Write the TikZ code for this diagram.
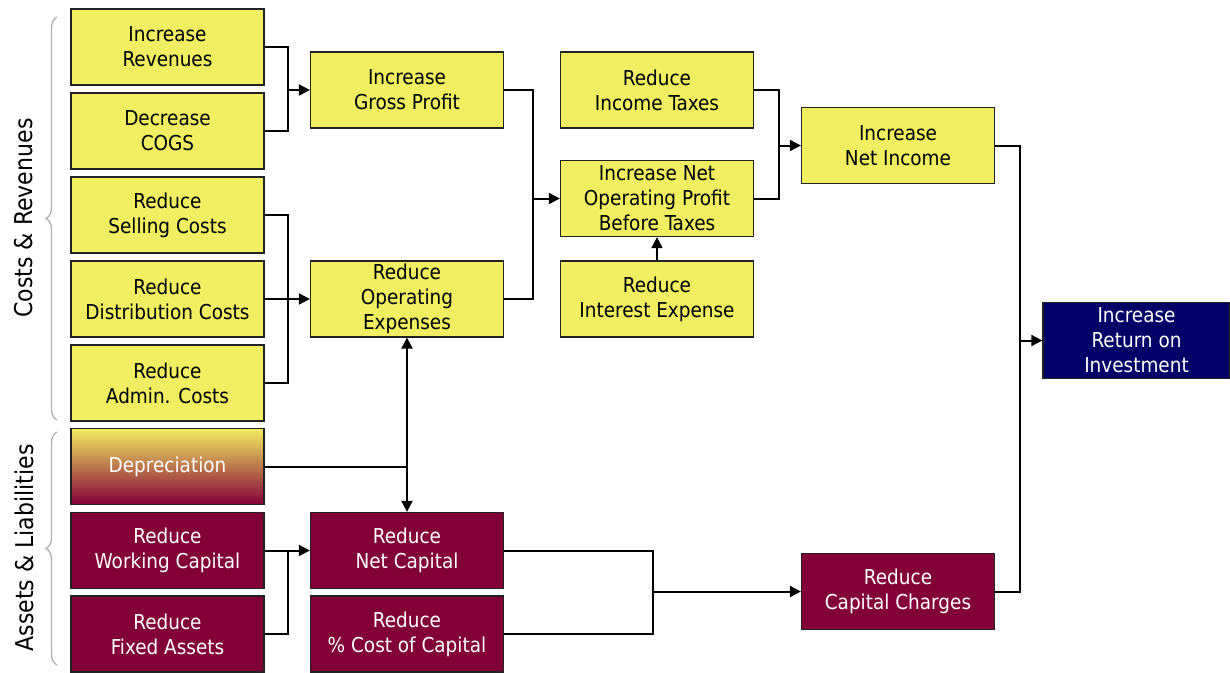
\documentclass[tikz,border=0pt]{standalone}
\usepackage{fontspec}
\setmainfont{DejaVu Sans Condensed}
\usetikzlibrary{arrows.meta,decorations.pathreplacing}
\definecolor{boxyellow}{HTML}{F2EE62}
\definecolor{boxmaroon}{HTML}{830037}
\definecolor{boxnavy}{HTML}{000066}
\definecolor{boxedge}{HTML}{222222}
\definecolor{bracegray}{HTML}{B0B0B0}
\begin{document}
\begin{tikzpicture}[x=1pt,y=-1pt,
  box/.style={draw=boxedge,line width=1.3pt,minimum width=193pt,minimum height=76pt,
    align=center,inner sep=1pt,font=\fontsize{20.5}{25}\selectfont},
  ybox/.style={box,fill=boxyellow,text=black},
  mbox/.style={box,fill=boxmaroon,text=white},
  nbox/.style={box,fill=boxnavy,text=white,minimum width=187pt},
  dbox/.style={box,top color=boxyellow,bottom color=boxmaroon,middle color=boxyellow!50!boxmaroon,text=white},
  conn/.style={line width=2pt,draw=black},
  arr/.style={conn,-{Triangle[length=11pt,width=11pt]}},
  darr/.style={conn,{Triangle[length=11pt,width=11pt]}-{Triangle[length=11pt,width=11pt]}},
  brc/.style={draw=bracegray,line width=1.3pt,decorate,decoration={brace,amplitude=11pt}},
  side/.style={rotate=90,font=\fontsize{24.5}{28}\selectfont}
]
\useasboundingbox (0,0) rectangle (1230,672);
% column 1
\node[ybox] (IR)  at (167.5,47)  {Increase\\Revenues};
\node[ybox] (CG)  at (167.5,131) {Decrease\\COGS};
\node[ybox] (SC)  at (167.5,215) {Reduce\\Selling Costs};
\node[ybox] (DC)  at (167.5,299) {Reduce\\Distribution Costs};
\node[ybox] (AC)  at (167.5,383) {Reduce\\Admin. Costs};
\node[dbox] (DEP) at (167.5,466.5) {Depreciation};
\node[mbox] (WC)  at (167.5,550.5) {Reduce\\Working Capital};
\node[mbox] (FA)  at (167.5,634) {Reduce\\Fixed Assets};
% column 2
\node[ybox] (GP)  at (407,90)  {Increase\\Gross Profit};
\node[ybox] (OE)  at (407,299) {Reduce\\Operating\\Expenses};
\node[mbox] (NC)  at (407,550.5) {Reduce\\Net Capital};
\node[mbox] (CC)  at (407,634) {Reduce\\\% Cost of Capital};
% column 3
\node[ybox] (IT)  at (657,90)  {Reduce\\Income Taxes};
\node[ybox] (NOP) at (657,198.5) {Increase Net\\Operating Profit\\Before Taxes};
\node[ybox] (IE)  at (657,299) {Reduce\\Interest Expense};
% column 4
\node[ybox] (NI)  at (898,145.5) {Increase\\Net Income};
\node[mbox] (CH)  at (898,591.5) {Reduce\\Capital Charges};
% column 5
\node[nbox] (ROI) at (1136.5,340.5) {Increase\\Return on\\Investment};
% connectors
\draw[conn] (IR.east) -- ++(23.5,0) coordinate (j1) |- (CG.east);
\draw[arr] (j1 |- GP.west) -- (GP.west);
\draw[conn] (SC.east) -- ++(23.5,0) coordinate (j2) |- (AC.east);
\draw[arr] (DC.east) -- (OE.west);
\draw[conn] (GP.east) -- ++(29,0) coordinate (j3) |- (OE.east);
\draw[arr] (j3 |- NOP.west) -- (NOP.west);
\draw[conn] (IT.east) -- ++(25,0) coordinate (j4) |- (NOP.east);
\draw[arr] (j4 |- NI.west) -- (NI.west);
\draw[arr] (IE.north) -- (NOP.south);
\draw[darr] (OE.south) -- (NC.north);
\draw[conn] (DEP.east) -- (DEP.east -| OE.south);
\draw[conn] (WC.east) -- ++(23.5,0) coordinate (j5) |- (FA.east);
\draw[arr] (j5 |- NC.west) -- (NC.west);
\draw[conn] (NC.east) -- ++(149,0) coordinate (j6) |- (CC.east);
\draw[arr] (j6 |- CH.west) -- (CH.west);
\draw[conn] (NI.east) -- ++(25,0) coordinate (j7) |- (CH.east);
\draw[arr] (j7 |- ROI.west) -- (ROI.west);
% braces and side labels
\coordinate (b1s) at (57,420);
\coordinate (b1e) at (57,17);
\coordinate (b2s) at (57,665);
\coordinate (b2e) at (57,432);
\draw[brc] (b1s) -- (b1e);
\draw[brc] (b2s) -- (b2e);
\node[side] (L1) at (24,218) {Costs \& Revenues};
\node[side] (L2) at (24,548) {Assets \& Liabilities};
\end{tikzpicture}
\end{document}
